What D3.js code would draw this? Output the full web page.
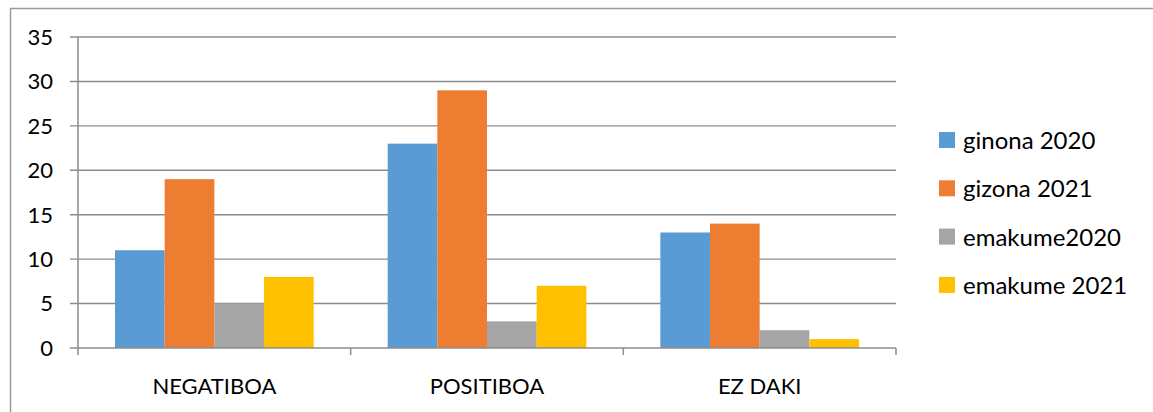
<!DOCTYPE html>
<html>
<head>
<meta charset="utf-8">
<script src="https://cdn.jsdelivr.net/npm/d3@7"></script>
<style>
  body { margin: 0; background: #fff; }
  svg text { font-family: Lato, Carlito, Calibri, sans-serif; fill: #000; }
</style>
</head>
<body>
<svg id="chart" width="1153" height="412"></svg>
<script>
var categories = ['NEGATIBOA', 'POSITIBOA', 'EZ DAKI'];
var seriesNames = ['ginona 2020', 'gizona 2021', 'emakume2020', 'emakume 2021'];
var seriesColors = ['#5B9BD5', '#ED7D31', '#A5A5A5', '#FFC000'];
var ginona2020 = [11, 23, 13];
var gizona2021 = [19, 29, 14];
var emakume2020 = [5, 3, 2];
var emakume2021 = [8, 7, 1];
var yTicks = [0, 5, 10, 15, 20, 25, 30, 35];

var seriesValues = [ginona2020, gizona2021, emakume2020, emakume2021];

var svg = d3.select('#chart');
var plotLeft = 78, plotRight = 896, plotTop = 37, plotBottom = 348;

// outer frame (runs off the right and bottom edges)
svg.append('rect')
  .attr('x', 10.5).attr('y', 8.5)
  .attr('width', 1160).attr('height', 420)
  .attr('fill', 'none').attr('stroke', '#9a9a9a').attr('stroke-width', 1.5);

var x = d3.scaleBand().domain(categories).range([plotLeft, plotRight]).padding(0);
var inner = d3.scaleBand().domain(d3.range(seriesNames.length))
  .range([37, x.bandwidth() - 37]).padding(0);
var y = d3.scaleLinear().domain([0, 35]).range([plotBottom, plotTop]);

// gridlines
svg.append('g').selectAll('line')
  .data(yTicks.filter(function(d) { return d > 0; }))
  .enter().append('line')
  .attr('x1', plotLeft - 8).attr('x2', plotRight)
  .attr('y1', function(d) { return y(d); }).attr('y2', function(d) { return y(d); })
  .attr('stroke', '#8c8c8c').attr('stroke-width', 1.4);

// bars
var rows = [];
categories.forEach(function(c, ci) {
  seriesValues.forEach(function(vals, si) {
    rows.push({ cat: c, s: si, v: vals[ci] });
  });
});

svg.append('g').selectAll('rect')
  .data(rows)
  .enter().append('rect')
  .attr('x', function(d) { return x(d.cat) + inner(d.s); })
  .attr('width', inner.bandwidth())
  .attr('y', function(d) { return y(d.v); })
  .attr('height', function(d) { return y(0) - y(d.v); })
  .attr('fill', function(d) { return seriesColors[d.s]; });

// y axis
var yAxis = svg.append('g');
yAxis.append('line')
  .attr('x1', plotLeft).attr('x2', plotLeft).attr('y1', plotTop).attr('y2', plotBottom)
  .attr('stroke', '#8c8c8c').attr('stroke-width', 1.5);
yAxis.append('line')
  .attr('x1', plotLeft - 8).attr('x2', plotLeft).attr('y1', plotBottom).attr('y2', plotBottom)
  .attr('stroke', '#8c8c8c').attr('stroke-width', 1.5);
yAxis.selectAll('text')
  .data(yTicks)
  .enter().append('text')
  .attr('x', 53)
  .attr('y', function(d) { return y(d); })
  .attr('dy', '0.36em')
  .attr('text-anchor', 'end')
  .style('font-size', '22px')
  .text(function(d) { return d; });

// x axis
var xAxis = svg.append('g');
xAxis.append('line')
  .attr('x1', plotLeft).attr('x2', plotRight).attr('y1', plotBottom).attr('y2', plotBottom)
  .attr('stroke', '#8c8c8c').attr('stroke-width', 1.5);
var edges = categories.map(function(c) { return x(c); }).concat([plotRight]);
xAxis.selectAll('line.tick')
  .data(edges)
  .enter().append('line')
  .attr('class', 'tick')
  .attr('x1', function(d) { return d; }).attr('x2', function(d) { return d; })
  .attr('y1', plotBottom).attr('y2', plotBottom + 7)
  .attr('stroke', '#8c8c8c').attr('stroke-width', 1.5);
xAxis.selectAll('text')
  .data(categories)
  .enter().append('text')
  .attr('x', function(d) { return x(d) + x.bandwidth() / 2; })
  .attr('y', 394)
  .attr('text-anchor', 'middle')
  .style('font-size', '22px')
  .text(function(d) { return d; });

// legend
var legend = svg.append('g').attr('transform', 'translate(939,132)');
var item = legend.selectAll('g')
  .data(seriesNames)
  .enter().append('g')
  .attr('transform', function(d, i) { return 'translate(0,' + i * 48.3 + ')'; });
item.append('rect')
  .attr('width', 16).attr('height', 16)
  .attr('fill', function(d, i) { return seriesColors[i]; });
item.append('text')
  .attr('x', 24).attr('y', 17)
  .style('font-size', '24px')
  .text(function(d) { return d; });
</script>
</body>
</html>
